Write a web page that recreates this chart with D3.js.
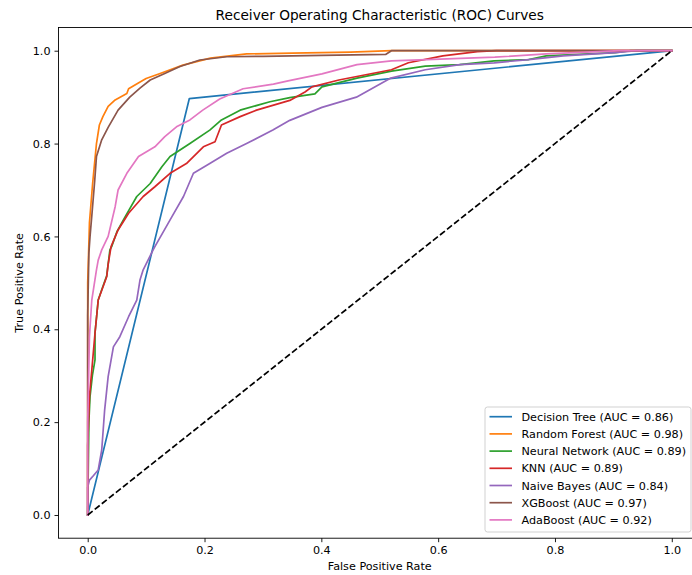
<!DOCTYPE html>
<html>
<head>
<meta charset="utf-8">
<script src="https://cdn.jsdelivr.net/npm/d3@7"></script>
<style>
  html, body { margin: 0; padding: 0; background: #fff; }
  svg { display: block; font-family: "DejaVu Sans", sans-serif; }
</style>
</head>
<body>
<svg id="chart" width="692" height="575"></svg>
<script>
// ROC curves of seven classifiers, with the chance diagonal.
const models = ["Decision Tree", "Random Forest", "Neural Network", "KNN", "Naive Bayes", "XGBoost", "AdaBoost"];
const aucs = [0.86, 0.98, 0.89, 0.89, 0.84, 0.97, 0.92];
const colors = ["#1f77b4", "#ff7f0e", "#2ca02c", "#d62728", "#9467bd", "#8c564b", "#e377c2"];

// [fpr, tpr] points per model
const rocDecisionTree = [[0, 0], [0.174, 0.897], [1, 1]];
const rocRandomForest = [[0, 0], [0, 0.50], [0.002, 0.585], [0.003, 0.63], [0.0085, 0.715], [0.015, 0.80], [0.02, 0.84],
  [0.026, 0.858], [0.035, 0.88], [0.047, 0.894], [0.067, 0.908], [0.07, 0.918], [0.086, 0.93], [0.10, 0.94], [0.124, 0.951],
  [0.163, 0.969], [0.21, 0.984], [0.272, 0.993], [0.35, 0.995], [0.45, 0.997], [0.52, 1.0], [1, 1]];
const rocNeuralNetwork = [[0, 0], [0.002, 0.20], [0.004, 0.255], [0.008, 0.30], [0.0125, 0.334], [0.0125, 0.392],
  [0.018, 0.463], [0.024, 0.485], [0.0325, 0.515], [0.038, 0.571], [0.041, 0.578], [0.05, 0.61], [0.064, 0.642],
  [0.084, 0.686], [0.107, 0.714], [0.127, 0.75], [0.141, 0.772], [0.175, 0.80], [0.209, 0.829], [0.229, 0.851],
  [0.261, 0.872], [0.312, 0.89], [0.346, 0.899], [0.389, 0.907], [0.401, 0.922], [0.461, 0.941], [0.52, 0.956],
  [0.578, 0.967], [0.637, 0.97], [0.696, 0.978], [0.755, 0.981], [0.785, 0.989], [0.903, 0.996], [0.93, 1.0], [1, 1]];
const rocKNN = [[0, 0], [0, 0.15], [0.003, 0.255], [0.007, 0.312], [0.0125, 0.392], [0.018, 0.463], [0.0325, 0.513],
  [0.035, 0.54], [0.04, 0.578], [0.052, 0.614], [0.07, 0.65], [0.095, 0.686], [0.115, 0.707], [0.141, 0.736],
  [0.169, 0.757], [0.198, 0.793], [0.218, 0.804], [0.229, 0.84], [0.261, 0.858], [0.289, 0.872], [0.346, 0.893],
  [0.372, 0.911], [0.384, 0.922], [0.43, 0.937], [0.52, 0.959], [0.549, 0.974], [0.608, 0.989], [0.667, 0.998],
  [0.70, 1.0], [1, 1]];
const rocNaiveBayes = [[0, 0], [0, 0.06], [0.003, 0.075], [0.01, 0.085], [0.018, 0.097], [0.024, 0.14], [0.029, 0.226],
  [0.035, 0.298], [0.044, 0.362], [0.055, 0.384], [0.07, 0.427], [0.084, 0.463], [0.0895, 0.506], [0.095, 0.528],
  [0.112, 0.571], [0.115, 0.578], [0.144, 0.642], [0.164, 0.686], [0.181, 0.736], [0.209, 0.757], [0.238, 0.779],
  [0.272, 0.80], [0.317, 0.829], [0.346, 0.85], [0.401, 0.878], [0.46, 0.90], [0.519, 0.941], [0.578, 0.959],
  [0.637, 0.97], [0.696, 0.974], [0.755, 0.981], [0.814, 0.989], [0.903, 0.996], [0.94, 1.0], [1, 1]];
const rocXGBoost = [[0, 0], [0, 0.43], [0.002, 0.564], [0.004, 0.60], [0.007, 0.644], [0.012, 0.72], [0.015, 0.772],
  [0.024, 0.808], [0.035, 0.835], [0.052, 0.872], [0.072, 0.90], [0.09, 0.92], [0.107, 0.937], [0.13, 0.95],
  [0.158, 0.966], [0.192, 0.98], [0.238, 0.987], [0.30, 0.988], [0.40, 0.99], [0.51, 0.992], [0.52, 1.0], [1, 1]];
const rocAdaBoost = [[0, 0], [0, 0.2], [0.003, 0.384], [0.007, 0.463], [0.015, 0.528], [0.018, 0.549], [0.024, 0.571],
  [0.035, 0.60], [0.047, 0.664], [0.052, 0.70], [0.067, 0.736], [0.087, 0.772], [0.115, 0.793], [0.132, 0.815],
  [0.152, 0.836], [0.175, 0.851], [0.197, 0.872], [0.226, 0.896], [0.266, 0.918], [0.318, 0.928], [0.343, 0.935],
  [0.401, 0.95], [0.461, 0.97], [0.52, 0.978], [0.58, 0.981], [0.697, 0.986], [0.785, 0.993], [0.874, 0.998],
  [0.91, 1.0], [1, 1]];
const rocCurves = [rocDecisionTree, rocRandomForest, rocNeuralNetwork, rocKNN, rocNaiveBayes, rocXGBoost, rocAdaBoost];
const chanceLine = [[0, 0], [1, 1]];

const tickValues = [0, 0.2, 0.4, 0.6, 0.8, 1.0];

const svg = d3.select("#chart");
const W = 692, H = 575;
const plot = { left: 58.5, top: 27.5, right: 701, bottom: 538.2 };
const fontSm = 11.2;

svg.append("rect").attr("width", W).attr("height", H).attr("fill", "#fff");

const x = d3.scaleLinear().domain([-0.05, 1.05]).range([plot.left, plot.right]);
const y = d3.scaleLinear().domain([-0.05, 1.05]).range([plot.bottom, plot.top]);

svg.append("clipPath").attr("id", "plotClip")
  .append("rect")
  .attr("x", plot.left).attr("y", plot.top)
  .attr("width", plot.right - plot.left).attr("height", plot.bottom - plot.top);

const line = d3.line().x(d => x(d[0])).y(d => y(d[1]));

const curves = svg.append("g").attr("clip-path", "url(#plotClip)");
rocCurves.forEach((pts, i) => {
  curves.append("path")
    .attr("d", line(pts))
    .attr("fill", "none")
    .attr("stroke", colors[i])
    .attr("stroke-width", 1.7)
    .attr("stroke-linejoin", "round")
    .attr("stroke-linecap", "square");
});
curves.append("path")
  .attr("d", line(chanceLine))
  .attr("fill", "none")
  .attr("stroke", "#000")
  .attr("stroke-width", 1.7)
  .attr("stroke-dasharray", "6.3,2.7");

// Axes
const fmt = d3.format(".1f");
const xAxis = svg.append("g")
  .attr("transform", `translate(0,${plot.bottom})`)
  .call(d3.axisBottom(x).tickValues(tickValues).tickFormat(fmt).tickSizeInner(4).tickSizeOuter(0).tickPadding(4));
const yAxis = svg.append("g")
  .attr("transform", `translate(${plot.left},0)`)
  .call(d3.axisLeft(y).tickValues(tickValues).tickFormat(fmt).tickSizeInner(4).tickSizeOuter(0).tickPadding(4));

[xAxis, yAxis].forEach(g => {
  g.select(".domain").remove();
  g.selectAll(".tick line").attr("stroke", "#000").attr("stroke-width", 0.9);
  g.selectAll(".tick text").attr("fill", "#000")
    .style("font-family", "'DejaVu Sans', sans-serif").style("font-size", fontSm + "px");
});

// Spines
const spines = svg.append("g").attr("stroke", "#000").attr("stroke-width", 0.9).attr("fill", "none");
spines.append("rect")
  .attr("x", plot.left).attr("y", plot.top)
  .attr("width", plot.right - plot.left).attr("height", plot.bottom - plot.top);

// Title and axis labels
svg.append("text")
  .attr("x", (plot.left + plot.right) / 2).attr("y", 20)
  .attr("text-anchor", "middle")
  .style("font-size", "13.7px")
  .text("Receiver Operating Characteristic (ROC) Curves");

svg.append("text")
  .attr("x", (plot.left + plot.right) / 2).attr("y", 570)
  .attr("text-anchor", "middle")
  .style("font-size", fontSm + "px")
  .text("False Positive Rate");

svg.append("text")
  .attr("transform", `translate(23,${(plot.top + plot.bottom) / 2}) rotate(-90)`)
  .attr("text-anchor", "middle")
  .style("font-size", fontSm + "px")
  .text("True Positive Rate");

// Legend (lower right)
const legend = { left: 485, top: 407, right: 691, bottom: 532, rowStart: 416.7, rowStep: 17.2 };
const lg = svg.append("g");
lg.append("rect")
  .attr("x", legend.left).attr("y", legend.top)
  .attr("width", legend.right - legend.left).attr("height", legend.bottom - legend.top)
  .attr("rx", 2.5).attr("ry", 2.5)
  .attr("fill", "#fff").attr("fill-opacity", 0.8)
  .attr("stroke", "#cccccc").attr("stroke-width", 0.9);

models.forEach((name, i) => {
  const cy = legend.rowStart + i * legend.rowStep;
  lg.append("line")
    .attr("x1", 489.5).attr("x2", 512).attr("y1", cy).attr("y2", cy)
    .attr("stroke", colors[i]).attr("stroke-width", 1.7);
  lg.append("text")
    .attr("x", 521.5).attr("y", cy).attr("dy", "0.36em")
    .style("font-size", fontSm + "px")
    .text(`${name} (AUC = ${aucs[i].toFixed(2)})`);
});
</script>
</body>
</html>
